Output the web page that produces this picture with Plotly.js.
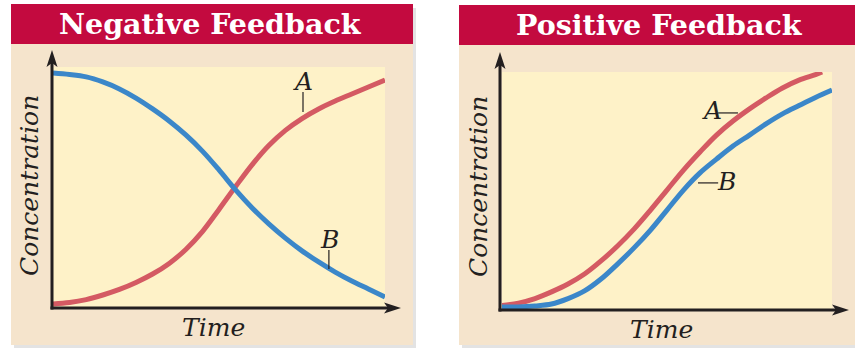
<!DOCTYPE html>
<html>
<head>
<meta charset="utf-8">
<script src="https://cdn.plot.ly/plotly-3.0.1.min.js"></script>
<style>
  html, body { margin: 0; padding: 0; background: #ffffff; }
  #chart { width: 855px; height: 350px; }
</style>
</head>
<body>
<div id="chart"></div>
<script>
var PANEL_TITLES = ["Negative Feedback", "Positive Feedback"];
var AXIS_X_TITLE = "Time";
var AXIS_Y_TITLE = "Concentration";

var time = [0, 0.5, 1, 1.5, 2, 2.5, 3, 3.5, 4, 4.5, 5, 5.5, 6, 6.5, 7, 7.5, 8, 8.5, 9, 9.5, 10];

// negative feedback: A rises, B falls
var negA = [0.17, 0.23, 0.35, 0.54, 0.77, 1.06, 1.41, 1.85, 2.43, 3.17, 4.09,
            5.04, 5.95, 6.74, 7.37, 7.86, 8.26, 8.59, 8.88, 9.17, 9.46];
var negB = [9.75, 9.69, 9.59, 9.38, 9.09, 8.71, 8.26, 7.76, 7.18, 6.51, 5.73,
            4.90, 4.15, 3.49, 2.90, 2.37, 1.91, 1.49, 1.12, 0.79, 0.46];

// positive feedback: both rise, A ahead of B (A runs off the top at 9.7)
var posTimeA = [0, 0.5, 1, 1.5, 2, 2.5, 3, 3.5, 4, 4.5, 5, 5.5, 6, 6.5, 7, 7.5, 8, 8.5, 9, 9.5, 9.7];
var posA = [0.19, 0.29, 0.48, 0.76, 1.09, 1.51, 2.06, 2.69, 3.40, 4.20, 5.04,
            5.88, 6.64, 7.35, 7.94, 8.45, 8.91, 9.33, 9.66, 9.89, 10.0];
var posB = [0.13, 0.13, 0.17, 0.25, 0.48, 0.80, 1.30, 1.93, 2.61, 3.36, 4.20,
            5.04, 5.76, 6.34, 6.89, 7.35, 7.82, 8.24, 8.59, 8.93, 9.24];

var RED = "#d45a63";
var BLUE = "#3b87c9";
var CRIMSON = "#c30a3f";
var BEIGE = "#f5e4cc";
var PALE = "#fef2c8";
var INK = "#231f20";

var W = 855, H = 350;
var px = function(x) { return x / W; };
var py = function(y) { return 1 - y / H; };

var curve = function(x, y, color, xa, ya) {
  return {
    type: "scatter", mode: "lines", x: x, y: y,
    xaxis: xa, yaxis: ya,
    line: { color: color, width: 5, shape: "spline", smoothing: 1 },
    hoverinfo: "skip"
  };
};

var data = [
  curve(time, negA, RED, "x", "y"),
  curve(time, negB, BLUE, "x", "y"),
  curve(posTimeA, posA, RED, "x2", "y2"),
  curve(time, posB, BLUE, "x2", "y2")
];

var rect = function(x0, y0, x1, y1, color) {
  return { type: "rect", xref: "paper", yref: "paper", layer: "below",
    x0: px(x0), x1: px(x1), y0: py(y1), y1: py(y0),
    fillcolor: color, line: { width: 0 } };
};

var plotArea = function(xr, yr) {
  return { type: "rect", xref: xr + " domain", yref: yr + " domain", layer: "below",
    x0: 0, x1: 1, y0: 0, y1: 1, fillcolor: PALE, line: { width: 0 } };
};

var leader = function(xr, yr, x0, y0, x1, y1) {
  return { type: "line", xref: xr, yref: yr, x0: x0, y0: y0, x1: x1, y1: y1,
    line: { color: INK, width: 1.2 } };
};

var axisLine = function(x0, y0, x1, y1) {
  return { type: "line", xref: "paper", yref: "paper",
    x0: px(x0), y0: py(y0), x1: px(x1), y1: py(y1),
    line: { color: INK, width: 3 } };
};

// notched arrow head, tip at (tx, ty), pointing up or right
var head = function(tx, ty, dir) {
  var pts;
  if (dir === "up") {
    pts = [[tx, ty], [tx + 5.5, ty + 17], [tx, ty + 13], [tx - 5.5, ty + 17]];
  } else {
    pts = [[tx, ty], [tx - 17, ty + 5.5], [tx - 13, ty], [tx - 17, ty - 5.5]];
  }
  var path = pts.map(function(p, i) {
    return (i === 0 ? "M" : "L") + px(p[0]) + "," + py(p[1]);
  }).join(" ") + " Z";
  return { type: "path", xref: "paper", yref: "paper", path: path,
    fillcolor: INK, line: { width: 0 } };
};

var shapes = [
  rect(14, 8, 416, 348, "#e3e3e3"),
  rect(462, 9, 858, 348, "#e3e3e3"),
  rect(11, 44, 413, 345, BEIGE),
  rect(11, 4, 413, 44, CRIMSON),
  rect(459, 45, 855, 345, BEIGE),
  rect(459, 5, 855, 45, CRIMSON),
  plotArea("x", "y"),
  plotArea("x2", "y2"),
  leader("x", "y", 7.53, 8.96, 7.53, 8.13),
  leader("x", "y", 8.31, 2.41, 8.31, 1.62),
  leader("x2", "y2", 6.55, 8.28, 7.15, 8.28),
  leader("x2", "y2", 5.94, 5.34, 6.55, 5.34),
  axisLine(52, 309.5, 52, 62),
  axisLine(50.5, 308, 388, 308),
  head(52, 50, "up"),
  head(401, 308, "right"),
  axisLine(500, 311.5, 500, 64),
  axisLine(498.5, 310, 836, 310),
  head(500, 52, "up"),
  head(849, 310, "right")
];

var serif = "DejaVu Serif, serif";

var label = function(text, x, y, size, angle, weight, color) {
  return { xref: "paper", yref: "paper", x: px(x), y: py(y),
    xanchor: "center", yanchor: "middle", showarrow: false, text: text,
    textangle: angle || 0,
    font: { family: serif, size: size, color: color || INK, weight: weight || "normal", style: weight ? "normal" : "italic" } };
};

var curveLabel = function(text, xr, yr, x, y) {
  return { xref: xr, yref: yr, x: x, y: y, xanchor: "center", yanchor: "middle",
    showarrow: false, text: text,
    font: { family: serif, size: 25, color: INK, style: "italic" } };
};

var annotations = [
  label(PANEL_TITLES[0], 210, 24, 28.5, 0, "bold", "#ffffff"),
  label(PANEL_TITLES[1], 659, 25, 28.5, 0, "bold", "#ffffff"),
  label(AXIS_Y_TITLE, 29, 186, 25, -90),
  label(AXIS_Y_TITLE, 478, 187, 25, -90),
  label(AXIS_X_TITLE, 213, 327, 25),
  label(AXIS_X_TITLE, 661, 329, 25),
  curveLabel("A", "x", "y", 7.53, 9.38),
  curveLabel("B", "x", "y", 8.33, 2.86),
  curveLabel("A", "x2", "y2", 6.36, 8.4),
  curveLabel("B", "x2", "y2", 6.79, 5.38)
];

var hidden = function(domain, anchor) {
  return { domain: domain, range: [0, 10], anchor: anchor, visible: false, fixedrange: true };
};

var layout = {
  width: W, height: H,
  margin: { l: 0, r: 0, t: 0, b: 0 },
  paper_bgcolor: "#ffffff",
  plot_bgcolor: "rgba(0,0,0,0)",
  showlegend: false,
  xaxis: hidden([px(53), px(385)], "y"),
  yaxis: hidden([py(308), py(67)], "x"),
  xaxis2: hidden([px(502), px(832)], "y2"),
  yaxis2: hidden([py(310), py(72)], "x2"),
  shapes: shapes,
  annotations: annotations
};

Plotly.newPlot(document.getElementById("chart"), data, layout, {
  displayModeBar: false,
  staticPlot: true
});
</script>
</body>
</html>
